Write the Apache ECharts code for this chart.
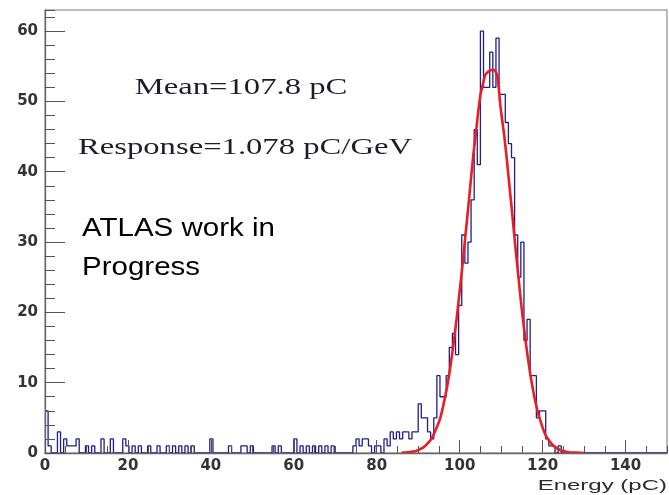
<!DOCTYPE html>
<html><head><meta charset="utf-8">
<script src="https://cdn.jsdelivr.net/npm/echarts@6/dist/echarts.min.js"></script>
<style>html,body{margin:0;padding:0;background:#fff}#c{width:669px;height:495px}</style>
</head><body><div id="c"></div>
<script>
// ---- data ----
const binWidth = 0.75; // pC per histogram bin
// non-empty bins: left edge (pC) and count
const binLeftEdges = [
  0, 0.75, 3.0, 4.5, 5.25, 6.0, 6.75, 7.5, 9.75, 11.25, 13.5, 15.75, 18.75, 19.5, 21.0, 22.5,
  24.75, 27.0, 29.25, 30.75, 32.25, 33.75, 35.25, 39.75, 44.25, 47.25, 48.0, 49.5, 54.75, 56.25,
  60.0, 61.5, 63.0, 64.5, 66.0, 67.5, 69.0, 74.25, 75.0, 75.75, 76.5, 77.25, 78.0, 79.5, 80.25,
  81.75, 82.5, 83.25, 84.0, 84.75, 85.5, 86.25, 87.0, 87.75, 88.5, 89.25,
  90.0, 90.75, 91.5, 92.25, 93.0, 93.75, 94.5, 95.25, 96.0, 96.75, 97.5, 98.25, 99.0, 99.75,
  100.5, 101.25, 102.0, 102.75, 103.5, 104.25, 105.0, 105.75, 106.5, 107.25, 108.0, 108.75,
  109.5, 110.25, 111.0, 111.75, 112.5, 113.25, 114.0, 114.75, 115.5, 116.25, 117.0, 117.75,
  118.5, 119.25, 120.0, 120.75, 121.5, 122.25, 123.75
];
const binCounts = [
  6, 1, 3, 2, 1, 1, 1, 2, 1, 1, 2, 2, 2, 1, 1, 1,
  1, 1, 1, 1, 1, 1, 1, 2, 1, 1, 1, 1, 1, 1,
  2, 1, 1, 1, 1, 1, 1, 1, 2, 1, 2, 2, 1, 1, 1,
  2, 1, 3, 2, 3, 2, 3, 3, 2, 3, 3,
  7, 5, 5, 3, 2, 5, 11, 8, 8, 11, 15, 17, 14, 21,
  31, 27, 30, 36, 46, 41, 60, 52, 52, 57, 52, 59,
  51, 51, 47, 44, 42, 31, 25, 30, 16, 19, 11, 11,
  5, 6, 6, 2, 1, 1, 1
];
// Gaussian fit curve
const fitX = [86, 88, 90, 92, 94, 96, 98, 100, 102, 104, 106, 108, 110, 112, 114, 116, 118, 120, 122, 124, 126, 128, 130];
const fitY = [0.05, 0.15, 0.4, 1.2, 3.0, 6.6, 13.3, 23, 34.5, 46, 53.5, 54.5, 48.5, 38, 26, 15.5, 8, 3.6, 1.4, 0.5, 0.15, 0.05, 0.01];
// axes
const xRange = [0, 150];
const yRange = [0, 63];
const xMajor = 20, xMinor = 5, yMajor = 10, yMinor = 2;
const xTitle = 'Energy (pC)';
const notes = ['Mean=107.8 pC', 'Response=1.078 pC/GeV', 'ATLAS work in', 'Progress'];

// ---- build the histogram outline ----
const nBins = Math.round((xRange[1] - xRange[0]) / binWidth);
const countByBin = {};
binLeftEdges.forEach((e, i) => { countByBin[Math.round(e / binWidth)] = binCounts[i]; });
const stepPts = [];
for (let i = 0; i < nBins; i++) {
  const c = countByBin[i] || 0;
  stepPts.push([i * binWidth, c], [(i + 1) * binWidth, c]);
}
const fitPts = fitX.map((x, i) => [x, fitY[i]]);

const chart = echarts.init(document.getElementById('c'));
const axCol = '#555';
const lblStyle = { color: '#333', fontSize: 15, fontWeight: 'bold', fontFamily: 'DejaVu Sans' };
chart.setOption({
  animation: false,
  backgroundColor: '#fff',
  grid: { left: 45, right: 2, top: 10, bottom: 42, show: true, borderColor: '#777', borderWidth: 1, backgroundColor: 'transparent' },
  xAxis: [
    { type: 'value', min: xRange[0], max: xRange[1], interval: xMajor, position: 'bottom', z: 5,
      axisLine: { show: true, onZero: false, lineStyle: { color: '#666', width: 1.3 } },
      axisTick: { show: true, inside: true, length: 13, lineStyle: { color: axCol } },
      axisLabel: Object.assign({ margin: 6, showMaxLabel: false }, lblStyle),
      splitLine: { show: false } },
    { type: 'value', min: xRange[0], max: xRange[1], interval: xMinor, position: 'bottom', z: 5,
      axisLine: { show: false, onZero: false },
      axisTick: { show: true, inside: true, length: 7, lineStyle: { color: axCol } },
      axisLabel: { show: false }, splitLine: { show: false } }
  ],
  yAxis: [
    { type: 'value', min: yRange[0], max: yRange[1], interval: yMajor, position: 'left', z: 5,
      axisLine: { show: true, onZero: false, lineStyle: { color: '#666', width: 1.3 } },
      axisTick: { show: true, inside: true, length: 20, lineStyle: { color: axCol } },
      axisLabel: Object.assign({ margin: 7, showMaxLabel: false }, lblStyle),
      splitLine: { show: false } },
    { type: 'value', min: yRange[0], max: yRange[1], interval: yMinor, position: 'left', z: 5,
      axisLine: { show: false, onZero: false },
      axisTick: { show: true, inside: true, length: 10, lineStyle: { color: axCol } },
      axisLabel: { show: false }, splitLine: { show: false } }
  ],
  series: [
    { type: 'line', name: 'data', xAxisIndex: 0, yAxisIndex: 0, data: stepPts, showSymbol: false, symbol: 'none',
      lineStyle: { color: '#1e1e8c', width: 1.3 }, clip: true, z: 2 },
    { type: 'line', name: 'fit', xAxisIndex: 0, yAxisIndex: 0, data: fitPts, smooth: true, showSymbol: false, symbol: 'none',
      lineStyle: { color: '#ec1c24', width: 2.6 }, clip: true, z: 3 }
  ],
  graphic: [
    { type: 'text', x: 241, y: 88, scaleX: 1.42, z: 10,
      style: { text: notes[0], font: '23px "Liberation Serif"', fill: '#1c1c2c', align: 'center', verticalAlign: 'middle' } },
    { type: 'text', x: 245, y: 148, scaleX: 1.42, z: 10,
      style: { text: notes[1], font: '23px "Liberation Serif"', fill: '#1c1c2c', align: 'center', verticalAlign: 'middle' } },
    { type: 'text', x: 82, y: 229, scaleX: 1.18, z: 10,
      style: { text: notes[2], font: '25px "Liberation Sans"', fill: '#000', align: 'left', verticalAlign: 'middle' } },
    { type: 'text', x: 82, y: 268, scaleX: 1.18, z: 10,
      style: { text: notes[3], font: '25px "Liberation Sans"', fill: '#000', align: 'left', verticalAlign: 'middle' } },
    { type: 'text', x: 667, y: 486, scaleX: 1.6, z: 10,
      style: { text: xTitle, font: '15px "Liberation Sans"', fill: '#2b2b2b', align: 'right', verticalAlign: 'middle' } }
  ]
});
</script>
</body></html>
